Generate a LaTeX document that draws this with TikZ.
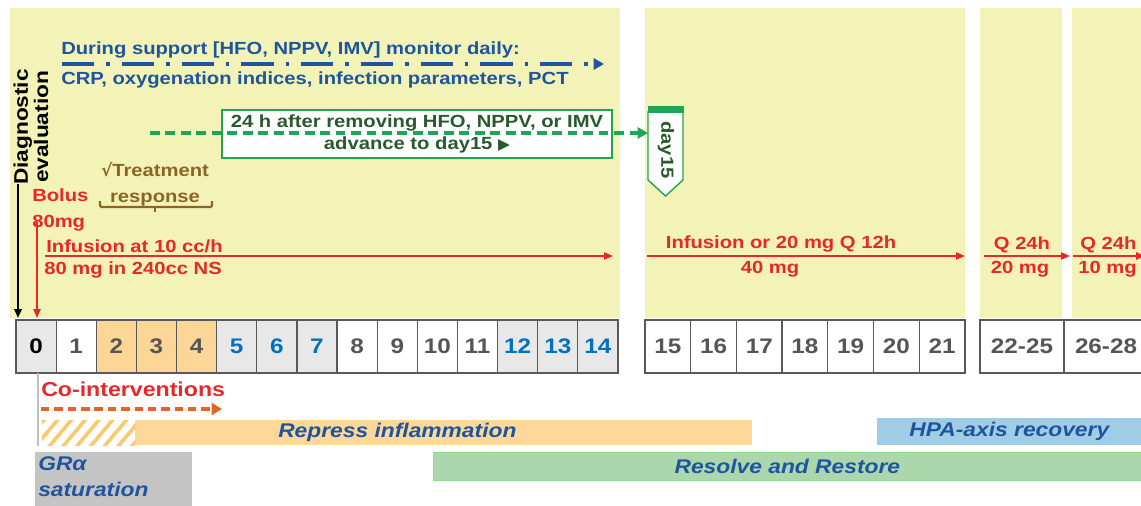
\documentclass[tikz,border=0pt]{standalone}
\usepackage{fontspec}
\setmainfont{Liberation Sans}[FakeStretch=1.15]
\newfontfamily\symfont{DejaVu Sans}
\usetikzlibrary{positioning,arrows.meta,patterns.meta}
\definecolor{cPanel}{RGB}{243,243,183}
\definecolor{cBlueTxt}{RGB}{30,85,160}
\definecolor{cRed}{RGB}{232,40,40}
\definecolor{cGreen}{RGB}{30,165,85}
\definecolor{cDkGreen}{RGB}{40,90,45}
\definecolor{cBrown}{RGB}{140,100,40}
\definecolor{cOrCell}{RGB}{252,214,150}
\definecolor{cGreyCell}{RGB}{232,232,232}
\definecolor{cNumBlue}{RGB}{0,112,192}
\definecolor{cNumGrey}{RGB}{85,85,85}
\definecolor{cOrBar}{RGB}{253,216,152}
\definecolor{cHatch}{RGB}{250,200,110}
\definecolor{cOrArrow}{RGB}{225,100,40}
\definecolor{cHPA}{RGB}{160,205,230}
\definecolor{cResolve}{RGB}{172,215,172}
\definecolor{cGRgrey}{RGB}{196,196,196}
\newcommand{\fsz}[1]{\fontsize{#1}{#1}\selectfont}

\begin{document}
\begin{tikzpicture}[x=0.025cm,y=-0.025cm,
   lbl/.style={font=\bfseries\fsz{12.5},inner sep=0pt},
   cell/.style={draw=black!65,line width=0.9pt,minimum height=1.325cm,inner sep=0pt,font=\bfseries\fsz{15}},
   bar/.style={anchor=north west,inner sep=0pt,font=\bfseries\itshape\fsz{14.1},text=cBlueTxt},
   redarrow/.style={cRed,line width=1pt,-{Triangle[length=2.2mm,width=1.8mm]}}]
  \useasboundingbox (0,0) rectangle (1141,505);
  % background panels
  \fill[cPanel] (10,8) rectangle (620,318);
  \fill[cPanel] (645,8) rectangle (965,318);
  \fill[cPanel] (980,8) rectangle (1062,318);
  \fill[cPanel] (1072,8) rectangle (1141,318);

  % monitoring
  \node[lbl,text=cBlueTxt,anchor=west] (mon) at (61,50) {During support [HFO, NPPV, IMV] monitor daily:};
  \node[lbl,text=cBlueTxt,anchor=west] (crp) at (61,80) {CRP, oxygenation indices, infection parameters, PCT};
  \coordinate (mstart) at (62,64);
  \coordinate (mend) at (604,64);
  \draw[cBlueTxt,line width=2.6pt,dash pattern=on 23pt off 8.5pt on 2.5pt off 8.5pt,-{Triangle[length=2.6mm,width=2.8mm]}] (mstart) -- (mend);

  % advance to day 15
  \node[draw=cGreen,fill=white,line width=1.3pt,minimum width=9.75cm,minimum height=1.2cm] (adv) at (417,134) {};
  \node[lbl,text=cDkGreen,anchor=base] (advA) at (417,128) {24 h after removing HFO, NPPV, or IMV};
  \node[lbl,text=cDkGreen,anchor=base] (advB) at (417,150) {advance to day15 {\symfont\fsz{11}▶}};
  \fill[white] (648,112) -- (683,112) -- (683,180) -- (665.5,196) -- (648,180) -- cycle;
  \draw[cGreen,line width=1pt] (648,112) -- (683,112) -- (683,180) -- (665.5,196) -- (648,180) -- cycle;
  \fill[cGreen] (647.5,106) rectangle (683.5,113);
  \node[lbl,text=cDkGreen,rotate=-90] (d15) at (666,150) {day15};
  \coordinate (gstart) at (150,133);
  \coordinate (flagL) at (648,133);
  \draw[cGreen,line width=2.3pt,dash pattern=on 7pt off 4pt,-{Triangle[length=2.6mm,width=2.8mm]}] (gstart) -- (flagL);

  % diagnostic evaluation
  \node[lbl,rotate=90,align=center,font=\bfseries\fontsize{14}{14.5}\selectfont] (diag) at (31,127) {Diagnostic\\evaluation};
  \coordinate (dtop) at (18,184);
  \coordinate (dbot) at (18,318);
  \draw[black,line width=1.4pt,-{Triangle[length=2.2mm,width=1.8mm]}] (dtop) -- (dbot);

  % bolus
  \node[lbl,text=cRed,align=left,anchor=north west] (bolus) at (32,188) {Bolus\\[6pt]80mg};
  \coordinate (btop) at (37,222);
  \coordinate (bbot) at (37,318);
  \draw[redarrow] (btop) -- (bbot);

  % treatment response
  \node[lbl,text=cBrown,align=center,anchor=north] (treat) at (155,162) {{\symfont\fsz{12}√}Treatment\\[6pt]response};
  \draw[cBrown,line width=1.6pt,rounded corners=1pt] (100,201) -- (100,207) -- (212,207) -- (212,201);
  \draw[cBrown,line width=1.6pt] (155,207) -- (155,212);

  % dosing
  \node[lbl,text=cRed,anchor=south west] (inf1) at (46,253) {Infusion at 10 cc/h};
  \node[lbl,text=cRed,anchor=north west] (inf1b) at (44,261) {80 mg in 240cc NS};
  \coordinate (i1s) at (45,256);
  \coordinate (i1e) at (613,256);
  \draw[redarrow] (i1s) -- (i1e);
  \node[lbl,text=cRed,anchor=south] (inf2) at (781,253) {Infusion or 20 mg Q 12h};
  \node[lbl,text=cRed,anchor=north] (inf2b) at (770,261) {40 mg};
  \coordinate (i2s) at (647,256);
  \coordinate (i2e) at (965,256);
  \draw[redarrow] (i2s) -- (i2e);
  \node[lbl,text=cRed,anchor=south] (q3) at (1022,253) {Q 24h};
  \node[lbl,text=cRed,anchor=north] (q3b) at (1020,261) {20 mg};
  \coordinate (i3s) at (984,256);
  \coordinate (i3e) at (1070,256);
  \draw[redarrow] (i3s) -- (i3e);
  \node[lbl,text=cRed,anchor=south west] (q4) at (1080,253) {Q 24h};
  \node[lbl,text=cRed,anchor=north west] (q4b) at (1078,261) {10 mg};
  \coordinate (i4s) at (1073,256);
  \coordinate (i4e) at (1145,256);
  \draw[redarrow] (i4s) -- (i4e);

  % days
  \foreach \d/\f/\t in {0/cGreyCell/black,1/white/cNumGrey,2/cOrCell/cNumGrey,3/cOrCell/cNumGrey,
      4/cOrCell/cNumGrey,5/cGreyCell/cNumBlue,6/cGreyCell/cNumBlue,7/cGreyCell/cNumBlue,
      8/white/cNumGrey,9/white/cNumGrey,10/white/cNumGrey,11/white/cNumGrey,
      12/cGreyCell/cNumBlue,13/cGreyCell/cNumBlue,14/cGreyCell/cNumBlue}
    \node[cell,fill=\f,text=\t,minimum width=1.003cm] (day\d) at ({36.07+40.13*\d},346.5) {\d};
  \foreach \d in {15,...,21}
    \node[cell,fill=white,text=cNumGrey,minimum width=1.143cm] (day\d) at ({667.85+45.7*(\d-15)},346.5) {\d};
  \node[cell,fill=white,text=cNumGrey,minimum width=2.1cm] (dayA) at (1022,346.5) {22-25};
  \node[cell,fill=white,text=cNumGrey,minimum width=2.1cm] (dayB) at (1106,346.5) {26-28};

  % effects
  \coordinate (gtop) at (38,373);
  \coordinate (gbot) at (38,446);
  \draw[black!25,line width=1.4pt] (gtop) -- (gbot);
  \node[lbl,text=cRed,font=\bfseries\fsz{14.3},anchor=west] (coint) at (41,389) {Co-interventions};
  \coordinate (cstart) at (41,409);
  \coordinate (cend) at (222,409);
  \draw[cOrArrow,line width=2.2pt,dash pattern=on 6pt off 3.5pt,-{Triangle[length=2.6mm,width=3mm]}] (cstart) -- (cend);
  \node[bar,fill=cOrBar,minimum width=17.75cm,minimum height=0.625cm] (repress) at (42,420) {Repress inflammation};
  \fill[white] (42,420) rectangle (135,445);
  \fill[pattern={Lines[angle=50,distance=7.5pt,line width=2.6pt]},pattern color=cHatch] (42,420) rectangle (135,445);
  \node[bar,fill=cHPA,minimum width=6.6cm,minimum height=0.675cm] (hpa) at (877,418) {HPA-axis recovery};
  \node[bar,fill=cResolve,draw=cResolve!80!green,minimum width=17.7cm,minimum height=0.7cm] (resolve) at (433,452) {Resolve and Restore};
  \fill[cGRgrey] (35,452) rectangle (192,506);
  \node[bar,align=left,anchor=north west] (gra) at (38,456) {GRα\\[5pt]saturation};
\end{tikzpicture}
\end{document}
